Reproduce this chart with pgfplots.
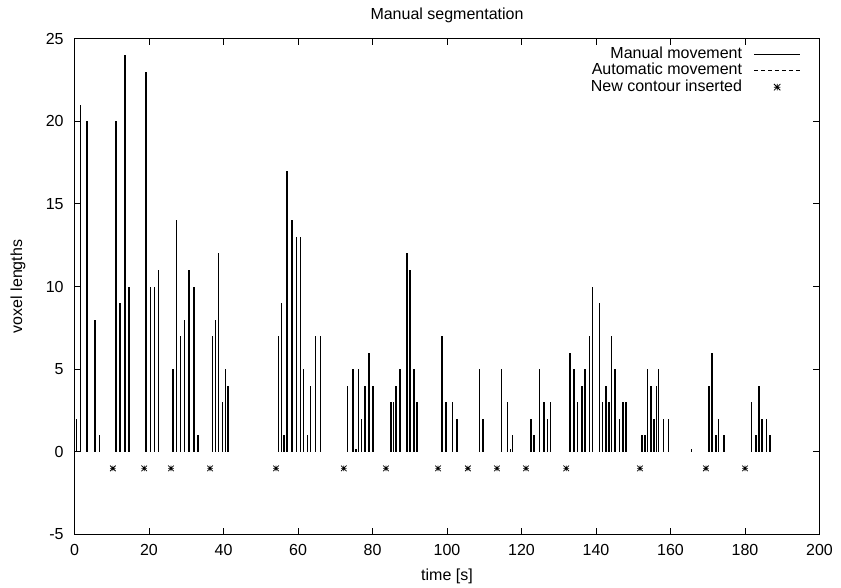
\documentclass[border=0pt]{standalone}
\usepackage{fontspec}
\setmainfont{Liberation Sans}
\usepackage{pgfplots}
\pgfplotsset{compat=1.18}
\usetikzlibrary{calc}

% gnuplot-like asterisk: plus and cross on top of each other
\pgfdeclareplotmark{gstar}{%
  \pgfpathmoveto{\pgfqpoint{-\pgfplotmarksize}{0pt}}%
  \pgfpathlineto{\pgfqpoint{\pgfplotmarksize}{0pt}}%
  \pgfpathmoveto{\pgfqpoint{0pt}{-\pgfplotmarksize}}%
  \pgfpathlineto{\pgfqpoint{0pt}{\pgfplotmarksize}}%
  \pgfpathmoveto{\pgfqpoint{-\pgfplotmarksize}{-\pgfplotmarksize}}%
  \pgfpathlineto{\pgfqpoint{\pgfplotmarksize}{\pgfplotmarksize}}%
  \pgfpathmoveto{\pgfqpoint{-\pgfplotmarksize}{\pgfplotmarksize}}%
  \pgfpathlineto{\pgfqpoint{\pgfplotmarksize}{-\pgfplotmarksize}}%
  \pgfusepathqstroke}

\pgfplotstableread{
t len
0.6 2
1.6 21
3.3 20
5.5 8
6.7 1
11.1 20
12.2 9
13.6 24
14.6 10
19.2 23
20.4 10
21.5 10
22.6 11
26.5 5
27.4 14
28.5 7
29.6 8
30.8 11
32.1 10
33.2 1
37.1 7
37.9 8
38.7 12
39.8 3
40.6 5
41.2 4
54.7 7
55.6 9
56.2 1
57.0 17
58.4 14
59.6 13
60.6 13
61.5 5
62.6 1
63.4 4
64.7 7
66.1 7
73.3 4
74.8 5
75.6 0.15
76.3 5
77.1 2
78.0 4
79.1 6
80.1 4
85.0 3
85.7 3
86.3 4
87.4 5
89.2 12
90.1 11
91.2 5
92.0 3
98.6 7
99.7 3
101.5 3
102.7 2
108.7 5
109.6 2
114.6 5
116.3 3
117.0 0.15
117.6 1
122.6 2
123.3 1
124.9 5
126.0 3
127.0 2
127.8 3
133.0 6
134.1 5
135.0 3
136.2 4
137.0 5
138.3 7
139.1 10
140.9 9
141.8 3
142.7 4
143.5 3
144.2 7
145.1 5
146.3 2
147.2 3
148.1 3
152.3 1
153.2 1
153.8 5
154.7 4
155.6 2
156.3 4
156.8 5
158.1 2
159.4 2
165.7 0.15
170.3 4
171.1 6
172.2 1
172.9 2
174.4 1
181.8 3
183.0 1
183.7 4
184.6 2
185.7 2
186.7 1
}\manual

\pgfplotstableread{
t y
10.3 -1
18.7 -1
25.9 -1
36.4 -1
54.1 -1
72.3 -1
83.6 -1
97.6 -1
105.6 -1
113.4 -1
121.2 -1
132.0 -1
151.8 -1
169.5 -1
180.0 -1
}\contours

\begin{document}
\fontsize{12}{14.4}\selectfont
\begin{tikzpicture}
\begin{axis}[
    name=ax,
    scale only axis,
    width=558.75pt, height=372pt,
    xmin=0, xmax=200, ymin=-5, ymax=25,
    xtick={0,20,...,200},
    ytick={-5,0,...,25},
    /pgf/number format/assume math mode=true,
    axis line style={line width=0.8pt},
    major tick length=5.2pt,
    tick style={black, line width=0.6pt},
    xticklabel style={anchor=base, yshift=-16pt},
    yticklabel style={anchor=east, inner sep=0pt, xshift=-8pt},
    title={Manual segmentation},
    every axis title shift=0pt,
    title style={at={(0.5,1.0387)}, anchor=base, inner sep=0pt, yshift=0pt},
    xlabel={time [s]},
    xlabel style={at={(0.5,-0.0933)}, anchor=base, inner sep=0pt, yshift=0pt},
    ylabel={voxel lengths},
    ylabel style={at={(-0.076,0.5)}, anchor=center, inner sep=0pt},
    clip=false,
    legend plot pos=right,
    legend cell align=right,
    legend image code/.code={%
      \draw[mark repeat=2,mark phase=2,#1]
        plot coordinates {(0pt,0pt) (17.25pt,0pt) (34.5pt,0pt)};},
    legend style={
      at={(1,1)}, anchor=north east, xshift=-14pt, yshift=-6pt,
      draw=none, fill=none, inner sep=0pt,
      row sep=1.4pt,
      nodes={inner sep=0pt, text height=8.5pt, text depth=2.5pt},
      /tikz/every odd column/.style={column sep=8.8pt},
    },
]
\addplot[ycomb, black, line width=1.1pt, forget plot] table[x=t, y=len] {\manual};
\addplot[only marks, mark=gstar, mark size=2.1pt, black,
         mark options={line width=0.55pt}, forget plot] table[x=t, y=y] {\contours};

\addlegendimage{black, line width=0.6pt}
\addlegendentry{Manual movement}
\addlegendimage{black, line width=0.6pt, dash pattern=on 3pt off 2.2pt}
\addlegendentry{Automatic movement}
\addlegendimage{only marks, mark=gstar, mark size=2.4pt, black, mark options={line width=0.55pt}}
\addlegendentry{New contour inserted}
\end{axis}
\path ($(ax.south west)+(-55.875pt,-39.45pt)$) rectangle ($(ax.north east)+(16.125pt,28.875pt)$);
\end{tikzpicture}
\end{document}
